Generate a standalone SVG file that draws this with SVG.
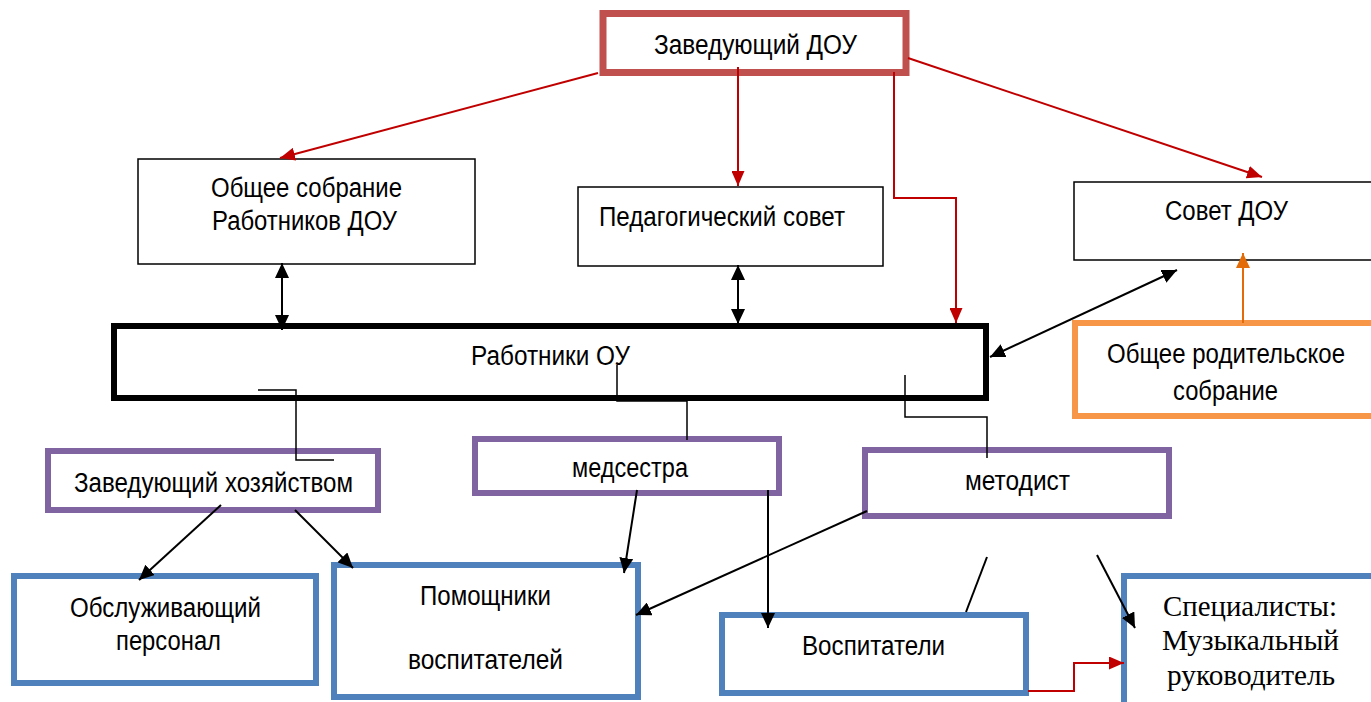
<svg xmlns="http://www.w3.org/2000/svg" width="1371" height="702" viewBox="0 0 1371 702">
<style>
  .t { font-family: "Liberation Sans", Arial, sans-serif; font-size: 27px; fill: #000; text-anchor: start; }
  .s { font-family: "Liberation Serif", "Times New Roman", serif; font-size: 29px; fill: #000; }
  .thin { fill: #fff; stroke: #000; stroke-width: 1.5; }
  .red { fill: #fff; stroke: #C0504D; stroke-width: 7; }
  .blk { fill: #fff; stroke: #000; stroke-width: 6; }
  .pur { fill: #fff; stroke: #8064A2; stroke-width: 6; }
  .blu { fill: #fff; stroke: #4F81BD; stroke-width: 6; }
  .org { fill: #fff; stroke: #F79646; stroke-width: 6; }
  .cr { fill: none; stroke: #C00000; stroke-width: 2; }
  .cb { fill: none; stroke: #000; stroke-width: 2; }
  .co { fill: none; stroke: #E36C09; stroke-width: 2; }
</style>
<defs>
  <marker id="ar" markerUnits="userSpaceOnUse" markerWidth="15" markerHeight="13" refX="15" refY="6.5" orient="auto-start-reverse">
    <path d="M0,0 L15,6.5 L0,13 z" fill="#C00000"/>
  </marker>
  <marker id="ab" markerUnits="userSpaceOnUse" markerWidth="15" markerHeight="14" refX="15" refY="7" orient="auto-start-reverse">
    <path d="M0,0 L15,7 L0,14 z" fill="#000"/>
  </marker>
  <marker id="ao" markerUnits="userSpaceOnUse" markerWidth="15" markerHeight="14" refX="15" refY="7" orient="auto-start-reverse">
    <path d="M0,0 L15,7 L0,14 z" fill="#E36C09"/>
  </marker>
</defs>
<rect width="1371" height="702" fill="#fff"/>

<g id="zav-dou">
  <rect class="red" x="603" y="13.5" width="303" height="59"/>
  <text class="t" x="654" y="54" textLength="203" lengthAdjust="spacingAndGlyphs">Заведующий ДОУ</text>
</g>
<g id="obshee-sobranie">
  <rect class="thin" x="138" y="159" width="337" height="105"/>
  <text class="t" x="211" y="197" textLength="191" lengthAdjust="spacingAndGlyphs">Общее собрание</text>
  <text class="t" x="212" y="230" textLength="185" lengthAdjust="spacingAndGlyphs">Работников ДОУ</text>
</g>
<g id="pedsovet">
  <rect class="thin" x="578" y="187" width="305" height="79"/>
  <text class="t" x="599" y="226" textLength="246" lengthAdjust="spacingAndGlyphs">Педагогический совет</text>
</g>
<g id="sovet-dou">
  <rect class="thin" x="1074" y="182" width="310" height="78"/>
  <text class="t" x="1165" y="220" textLength="123" lengthAdjust="spacingAndGlyphs">Совет ДОУ</text>
</g>
<g id="rabotniki">
  <rect class="blk" x="114" y="326" width="872" height="72"/>
  <text class="t" x="471" y="365" textLength="159" lengthAdjust="spacingAndGlyphs">Работники ОУ</text>
</g>
<g id="roditelskoe">
  <rect class="org" x="1075" y="323" width="310" height="93"/>
  <text class="t" x="1107" y="363" textLength="238" lengthAdjust="spacingAndGlyphs">Общее родительское</text>
  <text class="t" x="1173" y="400" textLength="105" lengthAdjust="spacingAndGlyphs">собрание</text>
</g>
<g id="zav-hoz">
  <rect class="pur" x="48" y="451" width="330" height="59"/>
  <text class="t" x="74" y="492" textLength="279" lengthAdjust="spacingAndGlyphs">Заведующий хозяйством</text>
</g>
<g id="medsestra">
  <rect class="pur" x="475" y="439" width="304" height="54"/>
  <text class="t" x="572" y="477" textLength="116" lengthAdjust="spacingAndGlyphs">медсестра</text>
</g>
<g id="metodist">
  <rect class="pur" x="865" y="450" width="304" height="66"/>
  <text class="t" x="965" y="490" textLength="105" lengthAdjust="spacingAndGlyphs">методист</text>
</g>
<g id="obsluzh">
  <rect class="blu" x="14" y="576" width="302" height="107"/>
  <text class="t" x="70" y="617" textLength="191" lengthAdjust="spacingAndGlyphs">Обслуживающий</text>
  <text class="t" x="116" y="650" textLength="105" lengthAdjust="spacingAndGlyphs">персонал</text>
</g>
<g id="pomoshniki">
  <rect class="blu" x="334" y="565" width="304" height="132"/>
  <text class="t" x="420" y="605" textLength="131" lengthAdjust="spacingAndGlyphs">Помощники</text>
  <text class="t" x="408" y="669" textLength="155" lengthAdjust="spacingAndGlyphs">воспитателей</text>
</g>
<g id="vospitateli">
  <rect class="blu" x="722" y="615" width="304" height="78"/>
  <text class="t" x="802" y="655" textLength="143" lengthAdjust="spacingAndGlyphs">Воспитатели</text>
</g>
<g id="specialisty">
  <rect class="blu" x="1124" y="576" width="260" height="140"/>
  <text class="s" x="1163" y="616" textLength="174" lengthAdjust="spacingAndGlyphs">Специалисты:</text>
  <text class="s" x="1162" y="650" textLength="177" lengthAdjust="spacingAndGlyphs">Музыкальный</text>
  <text class="s" x="1167" y="685" textLength="168" lengthAdjust="spacingAndGlyphs">руководитель</text>
</g>

<g id="connectors">
  <path class="cr" d="M598,73 L280,158" marker-end="url(#ar)"/>
  <path class="cr" d="M738,67 V186" marker-end="url(#ar)"/>
  <path class="cr" d="M894,72 V198 H956 V323" marker-end="url(#ar)"/>
  <path class="cr" d="M908,58 L1262,177" marker-end="url(#ar)"/>
  <path class="cb" d="M282,263 V330" marker-start="url(#ab)" marker-end="url(#ab)"/>
  <path class="cb" d="M738,265 V324" marker-start="url(#ab)" marker-end="url(#ab)"/>
  <path class="cb" d="M990,357 L1177,270" marker-start="url(#ab)" marker-end="url(#ab)"/>
  <path class="co" d="M1243,323 V253" marker-end="url(#ao)"/>
  <path class="cb" style="stroke-width:1.5" d="M258,390 H296 V460 H334"/>
  <path class="cb" style="stroke-width:1.5" d="M617,365 V401 H687 V440"/>
  <path class="cb" style="stroke-width:1.5" d="M905,375 V417 H987 V458"/>
  <path class="cb" d="M221,505 L139,580" marker-end="url(#ab)"/>
  <path class="cb" d="M295,510 L353,568" marker-end="url(#ab)"/>
  <path class="cb" d="M637,490 L624,573" marker-end="url(#ab)"/>
  <path class="cb" d="M768,490 V628" marker-end="url(#ab)"/>
  <path class="cb" d="M867,511 L636,615" marker-end="url(#ab)"/>
  <path class="cb" d="M987,557 L966,612"/>
  <path class="cb" d="M1097,555 L1135,628" marker-end="url(#ab)"/>
  <path class="cr" d="M1028,691 H1074 V663 H1124" marker-end="url(#ar)"/>
</g>
</svg>
